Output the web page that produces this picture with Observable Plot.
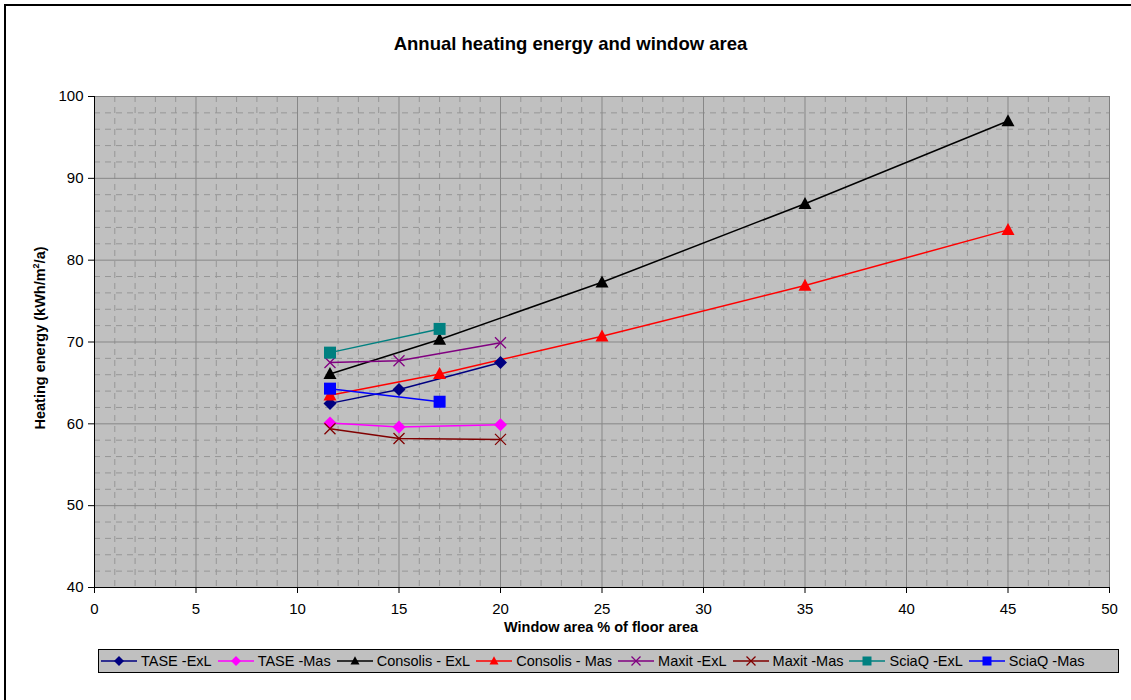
<!DOCTYPE html>
<html><head><meta charset="utf-8">
<script src="https://cdn.jsdelivr.net/npm/d3@7"></script>
<script src="https://cdn.jsdelivr.net/npm/@observablehq/plot@0.6"></script>
<style>
body{margin:0;background:#fff;font-family:"Liberation Sans",Arial,sans-serif;color:#000;overflow:hidden;}
#wrap{position:relative;width:1131px;height:700px;overflow:hidden;background:#fff;}
#border{position:absolute;left:4px;top:4px;width:1200px;height:800px;border-top:2px solid #000;border-left:2px solid #000;}
#chart{position:absolute;left:0;top:0;}
#title{position:absolute;left:0;width:1141px;top:34px;text-align:center;font-weight:bold;font-size:18.5px;line-height:20px;white-space:nowrap;}
#xlabel{position:absolute;left:601px;top:619px;transform:translateX(-50%);font-weight:bold;font-size:14.5px;line-height:17px;white-space:nowrap;}
#ylabel{position:absolute;left:40px;top:338px;transform:translate(-50%,-50%) rotate(-90deg);font-weight:bold;font-size:14.5px;line-height:17px;white-space:nowrap;}
#ylabel sup{font-size:9px;vertical-align:6px;line-height:0;}
#legend{position:absolute;left:98px;top:649px;width:1017px;height:22px;background:#C0C0C0;border:1px solid #000;display:flex;align-items:center;gap:6px;padding-left:2px;box-sizing:content-box;font-size:14.5px;white-space:nowrap;}
.item{display:flex;align-items:center;}
.item svg{display:block;margin-right:4px;}
</style></head><body>
<div id="wrap">
  <div id="border"></div>
  <div id="chart"></div>
  <div id="title">Annual heating energy and window area</div>
  <div id="xlabel">Window area % of floor area</div>
  <div id="ylabel">Heating energy (kWh/m<sup>2</sup>/a)</div>
  <div id="legend"></div>
</div>
<script>
// ---- data ----
const series = ["TASE -ExL","TASE -Mas","Consolis - ExL","Consolis - Mas","Maxit -ExL","Maxit -Mas","SciaQ -ExL","SciaQ -Mas"];
const xTASE = [11.6, 15, 20];
const xMaxit = [11.6, 15, 20];
const xConsolis = [11.6, 17, 25, 35, 45];
const xSciaQ = [11.6, 17];
const taseExL = [62.5, 64.2, 67.5];
const taseMas = [60.1, 59.6, 59.9];
const consolisExL = [66.1, 70.3, 77.3, 86.9, 97.0];
const consolisMas = [63.5, 66.1, 70.7, 76.9, 83.7];
const maxitExL = [67.5, 67.7, 69.9];
const maxitMas = [59.4, 58.2, 58.1];
const sciaqExL = [68.7, 71.6];
const sciaqMas = [64.3, 62.7];
const xTicks = [0, 5, 10, 15, 20, 25, 30, 35, 40, 45, 50];
const yTicks = [40, 50, 60, 70, 80, 90, 100];

// ---- styles ----
const colors = ["#000080","#FF00FF","#000000","#FF0000","#800080","#800000","#008080","#0000FF"];
const symbolKinds = ["diamond","diamond","triangle","triangle","times","times","square","square"];

const seriesX = [xTASE, xTASE, xConsolis, xConsolis, xMaxit, xMaxit, xSciaQ, xSciaQ];
const seriesY = [taseExL, taseMas, consolisExL, consolisMas, maxitExL, maxitMas, sciaqExL, sciaqMas];
const data = series.flatMap((s, i) => seriesY[i].map((y, j) => ({s, x: seriesX[i][j], y, k: symbolKinds[i]})));

const symbols = {
  diamond: {draw(c, size){const h = Math.sqrt(size/Math.PI); c.moveTo(0,-h); c.lineTo(h,0); c.lineTo(0,h); c.lineTo(-h,0); c.closePath();}},
  triangle: {draw(c, size){const h = Math.sqrt(size/Math.PI); c.moveTo(0,-h*1.05); c.lineTo(h,h*0.8); c.lineTo(-h,h*0.8); c.closePath();}},
  square: {draw(c, size){const h = Math.sqrt(size/Math.PI); c.rect(-h,-h,2*h,2*h);}},
  times: {draw(c, size){const h = Math.sqrt(size/Math.PI); c.moveTo(-h,-h); c.lineTo(h,h); c.moveTo(-h,h); c.lineTo(h,-h);}}
};
const sizes = {diamond: 6.5, triangle: 6.5, square: 6, times: 5.5};

const minorX = d3.range(1, 50).filter(v => v % 5 !== 0);
const minorY = d3.range(42, 100, 2).filter(v => v % 10 !== 0);
const majorX = xTicks.slice(1, -1);
const majorY = yTicks.slice(1, -1);

const dotMarks = ["diamond","triangle","times","square"].map(k => {
  const sub = data.filter(d => d.k === k);
  return k === "times"
    ? Plot.dot(sub, {x: "x", y: "y", symbol: symbols[k], r: sizes[k], fill: "none", stroke: "s", strokeWidth: 1.3})
    : Plot.dot(sub, {x: "x", y: "y", symbol: symbols[k], r: sizes[k], fill: "s", stroke: "none"});
});

const chart = Plot.plot({
  width: 1131, height: 700,
  marginLeft: 94, marginRight: 22, marginTop: 96, marginBottom: 113,
  x: {domain: [0, 50]},
  y: {domain: [40, 100]},
  color: {domain: series, range: colors},
  style: {fontFamily: "'Liberation Sans', Arial, sans-serif", fontSize: "15px", color: "#000", background: "transparent", overflow: "visible"},
  marks: [
    Plot.frame({fill: "#C0C0C0", stroke: "none"}),
    Plot.ruleX(minorX, {stroke: "#969696", strokeDasharray: "6,5"}),
    Plot.ruleY(minorY, {stroke: "#969696", strokeDasharray: "6,5"}),
    Plot.ruleX(majorX, {stroke: "#878787"}),
    Plot.ruleY(majorY, {stroke: "#878787"}),
    Plot.frame({stroke: "#808080"}),
    Plot.axisX({ticks: xTicks, tickSize: 6, tickPadding: 10, label: null, tickFormat: d => String(d)}),
    Plot.axisY({ticks: yTicks, tickSize: 6, tickPadding: 5, label: null, tickFormat: d => String(d)}),
    Plot.ruleX([0], {stroke: "#000"}),
    Plot.ruleY([40], {stroke: "#000"}),
    Plot.line(data, {x: "x", y: "y", z: "s", stroke: "s", strokeWidth: 1.5}),
    ...dotMarks
  ]
});
document.getElementById("chart").appendChild(chart);

// ---- legend ----
const legend = document.getElementById("legend");
series.forEach((s, i) => {
  const item = document.createElement("div");
  item.className = "item";
  const svg = d3.create("svg").attr("width", 36).attr("height", 14);
  svg.append("line").attr("x1", 0).attr("x2", 36).attr("y1", 7).attr("y2", 7).attr("stroke", colors[i]).attr("stroke-width", 1.5);
  const k = symbolKinds[i];
  const r = k === "diamond" ? 5 : 4.5;
  const p = d3.path();
  symbols[k].draw(p, r * r * Math.PI);
  svg.append("path").attr("transform", "translate(18,7)").attr("d", p.toString())
    .attr("fill", k === "times" ? "none" : colors[i])
    .attr("stroke", k === "times" ? colors[i] : "none").attr("stroke-width", 1.3);
  item.appendChild(svg.node());
  const t = document.createElement("span");
  t.textContent = s;
  item.appendChild(t);
  legend.appendChild(item);
});
</script>
</body></html>
